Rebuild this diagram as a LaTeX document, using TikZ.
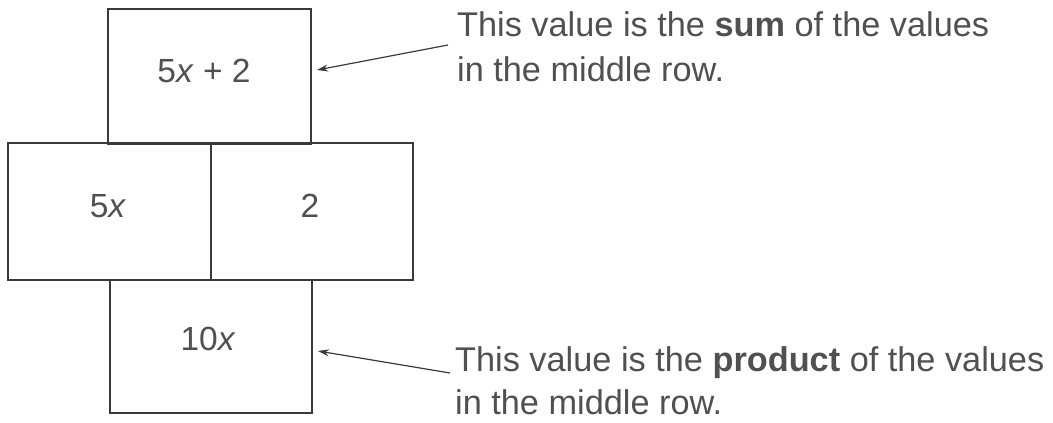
\documentclass[tikz,border=0pt]{standalone}
\usepackage{fontspec}
\setmainfont{Liberation Sans}
\usetikzlibrary{arrows.meta,calc}
\definecolor{txt}{HTML}{505050}
\definecolor{ln}{HTML}{3A3A3A}
\begin{document}
\begin{tikzpicture}[x=1pt,y=-1pt,
  box/.style={draw=ln,line width=1.4pt,inner sep=0pt,outer sep=0pt},
  lbl/.style={anchor=base,inner sep=0pt,text=txt,font=\fontsize{33.5}{45}\selectfont},
  note/.style={anchor=base west,inner sep=0pt,text=txt,font=\fontsize{34.3}{45}\selectfont},
  pointer/.style={draw=ln,line width=1.2pt,-{Stealth[length=11pt,width=7pt]}}]
\useasboundingbox (0,0) rectangle (1053,423);
% boxes
\node[box,minimum width=203pt,minimum height=135pt] (topbox) at (209.5,76.5) {};
\node[box,minimum width=203pt,minimum height=137pt] (leftbox) at (109.5,211.5) {};
\node[box,minimum width=202pt,minimum height=137pt] (rightbox) at (312,211.5) {};
\node[box,minimum width=202pt,minimum height=133pt] (botbox) at (211,346.5) {};
% labels
\node[lbl] (ltop) at (204,82) {5\textit{x} + 2};
\node[lbl] (lleft) at (108,217) {5\textit{x}};
\node[lbl] (lright) at (310,217) {2};
\node[lbl] (lbot) at (208,350) {10\textit{x}};
% notes
\node[note] (n1a) at (457,36) {This value is the \textbf{sum} of the values};
\node[note] (n1b) at (457,81) {in the middle row.};
\node[note] (n2a) at (455,371) {This value is the \textbf{product} of the values};
\node[note] (n2b) at (455,414) {in the middle row.};
% pointers
\coordinate (s1) at (448,45);
\coordinate (s2) at (450,373);
\coordinate (e1) at ($(topbox.east)+(6,-6.5)$);
\coordinate (e2) at ($(botbox.east)+(6,4.5)$);
\draw[pointer] (s1) -- (e1);
\draw[pointer] (s2) -- (e2);
\end{tikzpicture}
\end{document}
